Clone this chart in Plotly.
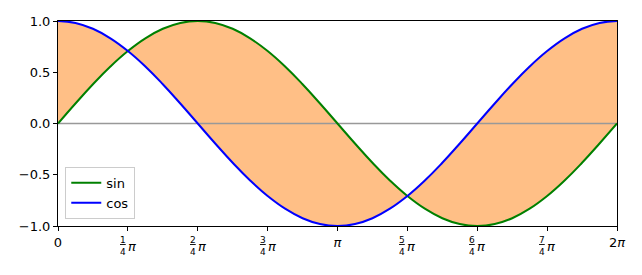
import plotly.graph_objects as go

# x positions in units of pi (every pi/16)
x_pi = [0, 0.0625, 0.125, 0.1875, 0.25, 0.3125, 0.375, 0.4375, 0.5, 0.5625, 0.625, 0.6875,
        0.75, 0.8125, 0.875, 0.9375, 1.0, 1.0625, 1.125, 1.1875, 1.25, 1.3125, 1.375, 1.4375,
        1.5, 1.5625, 1.625, 1.6875, 1.75, 1.8125, 1.875, 1.9375, 2.0]
sin_vals = [0.0, 0.195, 0.383, 0.556, 0.707, 0.831, 0.924, 0.981, 1.0, 0.981, 0.924, 0.831,
            0.707, 0.556, 0.383, 0.195, 0.0, -0.195, -0.383, -0.556, -0.707, -0.831, -0.924, -0.981,
            -1.0, -0.981, -0.924, -0.831, -0.707, -0.556, -0.383, -0.195, 0.0]
cos_vals = [1.0, 0.981, 0.924, 0.831, 0.707, 0.556, 0.383, 0.195, 0.0, -0.195, -0.383, -0.556,
            -0.707, -0.831, -0.924, -0.981, -1.0, -0.981, -0.924, -0.831, -0.707, -0.556, -0.383, -0.195,
            0.0, 0.195, 0.383, 0.556, 0.707, 0.831, 0.924, 0.981, 1.0]
zero_line = [0.0, 0.0]
zero_x = [0, 2.0]

tick_vals = [0, 0.25, 0.5, 0.75, 1.0, 1.25, 1.5, 1.75, 2.0]
tick_text = ["0", "", "", "", "<i>π</i>", "", "", "", "2<i>π</i>"]
frac_ticks = [0.25, 0.5, 0.75, 1.25, 1.5, 1.75]
frac_nums = ["1", "2", "3", "5", "6", "7"]

FONT = "DejaVu Sans"
fig = go.Figure()

# fill between curves
fig.add_trace(go.Scatter(x=x_pi, y=sin_vals, mode="lines", line=dict(width=0, shape="spline", smoothing=1.3),
                         showlegend=False, hoverinfo="skip"))
fig.add_trace(go.Scatter(x=x_pi, y=cos_vals, mode="lines", line=dict(width=0, shape="spline", smoothing=1.3),
                         fill="tonexty", fillcolor="#ffbf86", showlegend=False, hoverinfo="skip"))
# zero line
fig.add_trace(go.Scatter(x=zero_x, y=zero_line, mode="lines", line=dict(color="#999999", width=1.7),
                         showlegend=False, hoverinfo="skip"))
fig.add_trace(go.Scatter(x=x_pi, y=sin_vals, mode="lines", name="sin",
                         line=dict(color="green", width=2, shape="spline", smoothing=1.3)))
fig.add_trace(go.Scatter(x=x_pi, y=cos_vals, mode="lines", name="cos",
                         line=dict(color="blue", width=2, shape="spline", smoothing=1.3)))

for xv, num in zip(frac_ticks, frac_nums):
    fig.add_annotation(x=xv, y=0, xref="x", yref="paper", text=f"<u>{num}</u><br>4",
                       showarrow=False, xanchor="right", yanchor="top", yshift=-7, xshift=0,
                       font=dict(family=FONT, size=9, color="black"), align="center")
    fig.add_annotation(x=xv, y=0, xref="x", yref="paper", text="<i>π</i>",
                       showarrow=False, xanchor="left", yanchor="top", yshift=-11, xshift=-2,
                       font=dict(family=FONT, size=13, color="black"))

fig.update_xaxes(range=[0, 2.0], tickmode="array", tickvals=tick_vals, ticktext=tick_text,
                 showgrid=False, zeroline=False, showline=True, linecolor="black", linewidth=1,
                 mirror=True, ticks="outside", ticklen=4, tickcolor="black",
                 tickfont=dict(family=FONT, size=13, color="black"))
fig.update_yaxes(range=[-1.0, 1.0], tickvals=[-1.0, -0.5, 0.0, 0.5, 1.0], tickformat=".1f",
                 showgrid=False, zeroline=False, showline=True, linecolor="black", linewidth=1,
                 mirror=True, ticks="outside", ticklen=4, tickcolor="black",
                 tickfont=dict(family=FONT, size=13, color="black"))
fig.update_layout(width=642, height=275, margin=dict(l=58, r=25, t=21, b=49),
                  plot_bgcolor="white", paper_bgcolor="white",
                  font=dict(family=FONT, size=13, color="black"),
                  legend=dict(x=0.013, y=0.035, xanchor="left", yanchor="bottom",
                              traceorder="normal",
                              bgcolor="white", bordercolor="#cccccc", borderwidth=1,
                              font=dict(family=FONT, size=13), itemwidth=30,
                              tracegroupgap=0))
fig.write_html("out.html")
